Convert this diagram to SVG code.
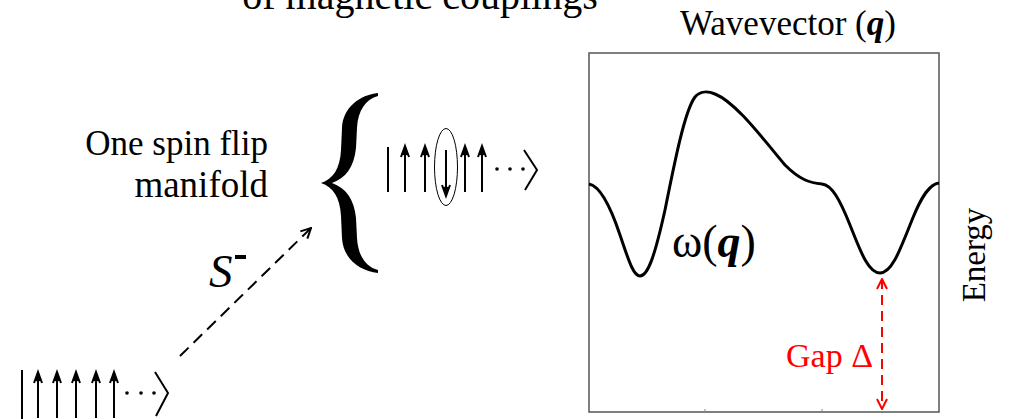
<svg xmlns="http://www.w3.org/2000/svg" width="1013" height="419" viewBox="0 0 1013 419">
<defs>
<style>
.t{font-family:"Liberation Serif","Times New Roman",serif;fill:#000}
.k{stroke:#000;stroke-width:2;fill:none}
.dot{fill:#000}
</style>
<marker id="ah" viewBox="0 0 12 12" refX="11" refY="6" markerWidth="12" markerHeight="12" markerUnits="userSpaceOnUse" orient="auto-start-reverse">
<path d="M1,1 L11,6 L1,11" fill="none" stroke="#000" stroke-width="2"/>
</marker>
<marker id="ahr" viewBox="0 0 12 12" refX="11" refY="6" markerWidth="12" markerHeight="12" markerUnits="userSpaceOnUse" orient="auto-start-reverse">
<path d="M1,1 L11,6 L1,11" fill="none" stroke="#f00" stroke-width="2"/>
</marker>
<path id="up" d="M0,0 L0,46 M-4,11 L0,0 L4,11 M-2,9 L0,3 L2,9" stroke="#000" stroke-width="2" fill="none"/>
</defs>

<g id="title">
<text class="t" x="420" y="9" font-size="40" text-anchor="middle">of magnetic couplings</text>
</g>

<g id="ground-state">
<line class="k" x1="22" y1="370" x2="22" y2="419"/>
<use href="#up" x="38" y="372"/>
<use href="#up" x="57" y="372"/>
<use href="#up" x="76" y="372"/>
<use href="#up" x="96" y="372"/>
<use href="#up" x="114" y="372"/>
<circle class="dot" cx="127" cy="393" r="1.8"/>
<circle class="dot" cx="141" cy="393" r="1.8"/>
<circle class="dot" cx="154" cy="393" r="1.8"/>
<path class="k" d="M155,372 L168,393 L156,416"/>
</g>

<g id="manifold-label">
<text class="t" x="268" y="155" font-size="35" text-anchor="end">One spin flip</text>
<text class="t" x="268" y="197" font-size="37" text-anchor="end">manifold</text>
</g>

<g id="brace">
<path d="M378,93 C360,95 343,107 342,128 L341,150 C340,169 333,179 321,183 C333,187 340,197 341,216 L342,238 C343,259 360,271 378,273 L378,270 C366,267 358,256 357,238 L356,218 C354,199 346,188 332,183 C346,178 354,167 356,148 L357,128 C358,110 366,99 378,96 Z" fill="#000"/>
</g>

<g id="flipped-state">
<line class="k" x1="388" y1="147" x2="388" y2="192"/>
<use href="#up" x="405" y="146"/>
<use href="#up" x="425" y="146"/>
<use href="#up" x="446" y="196" transform="rotate(180 446 196)"/>
<use href="#up" x="465" y="146"/>
<use href="#up" x="482" y="146"/>
<ellipse cx="446" cy="167" rx="11.5" ry="38.5" fill="none" stroke="#000" stroke-width="1"/>
<circle class="dot" cx="497" cy="169" r="1.8"/>
<circle class="dot" cx="510" cy="169" r="1.8"/>
<circle class="dot" cx="523" cy="169" r="1.8"/>
<path class="k" d="M524,150 L537,170 L525,190"/>
</g>

<g id="connectors">
<line x1="180" y1="356" x2="311" y2="228" stroke="#000" stroke-width="2" stroke-dasharray="12 7" marker-end="url(#ah)"/>
<line x1="882" y1="279" x2="882" y2="409" stroke="#f00" stroke-width="2" stroke-dasharray="10 6" marker-start="url(#ahr)" marker-end="url(#ahr)"/>
</g>

<g id="operator-label">
<text class="t" x="209" y="287" font-size="47" font-style="italic">S</text>
<rect x="235" y="255" width="11" height="4" fill="#000"/>
</g>

<g id="plot">
<text class="t" x="788" y="35" font-size="35" text-anchor="middle">Wavevector (<tspan font-weight="bold" font-style="italic">q</tspan>)</text>
<rect x="589" y="53" width="350" height="359" fill="none" stroke="#555" stroke-width="1.5"/>
<line x1="705" y1="412" x2="705" y2="409" stroke="#888" stroke-width="1"/>
<line x1="822" y1="412" x2="822" y2="409" stroke="#888" stroke-width="1"/>
<path d="M589,184 C600,186 610,205 620,235 C628,258 633,276 640,276 C648,276 655,255 665,210 C675,160 685,110 695,97 C700,91 708,91 715,94 C735,102 760,135 785,165 C800,180 810,183 822,184 C832,185 840,200 850,225 C860,250 868,273 880,273 C892,273 900,250 912,220 C922,195 930,184 939,183" fill="none" stroke="#000" stroke-width="3"/>
<text class="t" x="672" y="257" font-size="46">ω(<tspan font-weight="bold" font-style="italic">q</tspan>)</text>
<text class="t" x="873" y="367" font-size="34" text-anchor="end" style="fill:#f00">Gap Δ</text>
<text class="t" x="0" y="0" font-size="33" text-anchor="middle" transform="translate(985,255) rotate(-90)">Energy</text>
</g>
</svg>
